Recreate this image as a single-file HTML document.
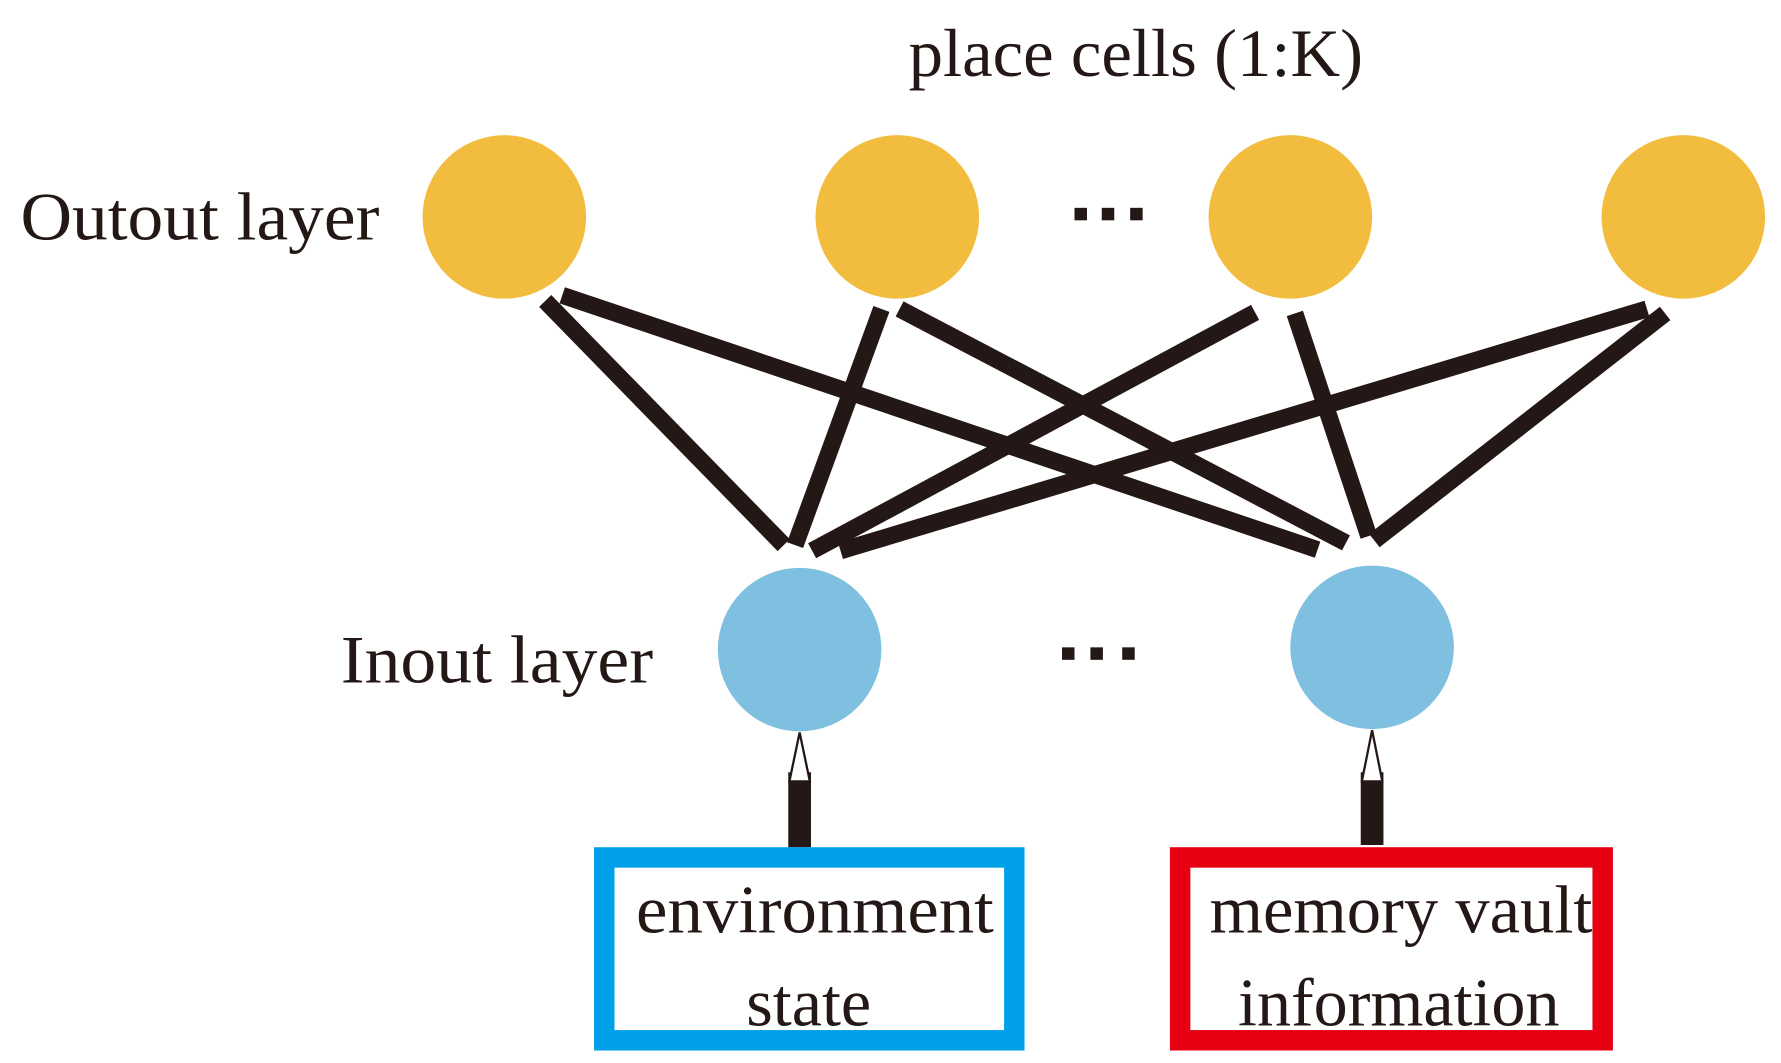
<!DOCTYPE html>
<html><head><style>html,body{margin:0;padding:0;background:#fff}svg{display:block}</style></head>
<body>
<svg width="1781" height="1063" viewBox="0 0 1568 936" preserveAspectRatio="none" xmlns="http://www.w3.org/2000/svg">
<g fill="#F2BD3F">
<circle cx="444" cy="191" r="72"/><circle cx="790" cy="191" r="72"/><circle cx="1136" cy="191" r="72"/><circle cx="1482" cy="191" r="72"/>
</g>
<g fill="#7FBFE0">
<circle cx="704" cy="572" r="72"/><circle cx="1208" cy="570" r="72"/>
</g>
<g stroke="#231815" stroke-width="15" fill="none">
<line x1="480" y1="265" x2="690" y2="480"/>
<line x1="495" y1="260" x2="1160" y2="484"/>
<line x1="776" y1="272" x2="700" y2="480"/>
<line x1="792" y1="272" x2="1185" y2="478"/>
<line x1="1105" y1="275" x2="715" y2="485"/>
<line x1="1450" y1="272" x2="740" y2="485"/>
<line x1="1466" y1="276" x2="1210" y2="476"/>
<line x1="1140" y1="276" x2="1205" y2="472"/>
<line x1="704" y1="746" x2="704" y2="680" stroke-width="20"/>
<line x1="1208" y1="744" x2="1208" y2="680" stroke-width="20"/>
</g>
<g fill="#fff" stroke="#231815" stroke-width="2">
<path d="M704 645 L713 688 L695 688 Z"/>
<path d="M1208 643 L1217 688 L1199 688 Z"/>
</g>
<rect x="532" y="755" width="361" height="161" fill="#fff" stroke="#00A0E8" stroke-width="18"/>
<rect x="1039" y="755" width="372" height="161" fill="#fff" stroke="#E60012" stroke-width="18"/>
<g font-family="'Liberation Serif', serif" font-size="60" fill="#231815" lengthAdjust="spacingAndGlyphs">
<text x="800" y="67" textLength="400" lengthAdjust="spacingAndGlyphs">place cells (1:K)</text>
<text x="18" y="211" textLength="316" lengthAdjust="spacingAndGlyphs">Outout layer</text>
<text x="300" y="601" textLength="275" lengthAdjust="spacingAndGlyphs">Inout layer</text>
<text x="560" y="821" textLength="315" lengthAdjust="spacingAndGlyphs">environment</text>
<text x="657" y="903" textLength="110" lengthAdjust="spacingAndGlyphs">state</text>
<text x="1065" y="821" textLength="337" lengthAdjust="spacingAndGlyphs">memory vault</text>
<text x="1090" y="903" textLength="283" lengthAdjust="spacingAndGlyphs">information</text>
</g>
<g fill="#231815">
<rect x="946" y="183" width="11" height="11"/><rect x="970" y="183" width="11" height="11"/><rect x="995" y="183" width="11" height="11"/>
<rect x="935" y="570" width="11" height="11"/><rect x="960" y="570" width="11" height="11"/><rect x="988" y="570" width="11" height="11"/>
</g>
</svg>
</body></html>
